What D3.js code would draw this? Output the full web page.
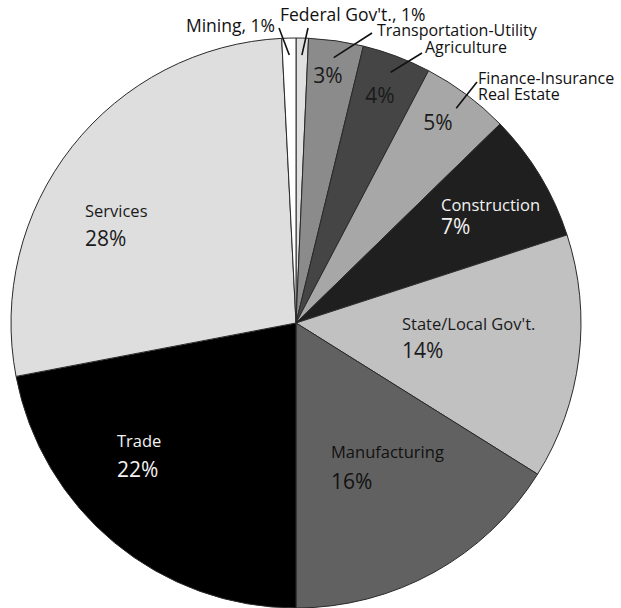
<!DOCTYPE html>
<html>
<head>
<meta charset="utf-8">
<script src="https://cdn.jsdelivr.net/npm/d3@7"></script>
<style>
  html, body { margin: 0; padding: 0; background: #fff; }
  svg { display: block; }
  text { font-family: "Open Sans", sans-serif; }
</style>
</head>
<body>
<svg width="621" height="608"></svg>
<script>
const svg = d3.select("svg");
const width = 621;
const height = 608;

// Slices clockwise from 12 o'clock
const categories = [
  "Federal Gov't.", "Transportation-Utility", "Agriculture",
  "Finance-Insurance Real Estate", "Construction", "State/Local Gov't.",
  "Manufacturing", "Trade", "Services", "Mining"
];
const shares = [0.7, 3.1, 3.9, 5.0, 7.3, 13.9, 16.1, 22.0, 27.2, 0.8];
const pctLabels = ["1%", "3%", "4%", "5%", "7%", "14%", "16%", "22%", "28%", "1%"];
const fills = ["#e0e0e0", "#8b8b8b", "#454545", "#a7a7a7", "#1f1f1f",
               "#c1c1c1", "#616161", "#000000", "#dedede", "#ffffff"];

const cx = 296, cy = 323, radius = 285;

const data = categories.map((c, i) => ({ name: c, value: shares[i], pct: pctLabels[i], fill: fills[i] }));

const pie = d3.pie().sort(null).value(d => d.value);
const arcs = pie(data);
const arc = d3.arc().innerRadius(0).outerRadius(radius);

const g = svg.append("g").attr("transform", `translate(${cx},${cy})`);

g.selectAll("path")
  .data(arcs)
  .join("path")
  .attr("d", arc)
  .attr("fill", d => d.data.fill)
  .attr("stroke", "#2a2a2a")
  .attr("stroke-width", 1);

// Labels inside the big slices: name over percent, left aligned
const inside = {
  "Construction":       { x: 145, y: -112, gap: 23, color: "#f2f2f2" },
  "State/Local Gov't.": { x: 106, y: 7,    gap: 28, color: "#1a1a1a" },
  "Manufacturing":      { x: 35,  y: 135,  gap: 31, color: "#111111" },
  "Trade":              { x: -179, y: 124, gap: 30, color: "#f2f2f2" },
  "Services":           { x: -211, y: -106, gap: 29, color: "#1a1a1a" }
};

arcs.filter(d => inside[d.data.name]).forEach(d => {
  const p = inside[d.data.name];
  g.append("text")
    .attr("x", p.x).attr("y", p.y)
    .attr("font-size", 16.5)
    .attr("fill", p.color)
    .text(d.data.name);
  g.append("text")
    .attr("x", p.x).attr("y", p.y + p.gap)
    .attr("font-size", 21)
    .attr("fill", p.color)
    .text(d.data.pct);
});

// Percent only, inside the thin slices
const pctOnly = {
  "Transportation-Utility":        { x: 32,  y: -240, color: "#1a1a1a" },
  "Agriculture":                   { x: 84,  y: -220, color: "#1a1a1a" },
  "Finance-Insurance Real Estate": { x: 142, y: -193, color: "#1a1a1a" }
};

arcs.filter(d => pctOnly[d.data.name]).forEach(d => {
  const p = pctOnly[d.data.name];
  g.append("text")
    .attr("x", p.x).attr("y", p.y)
    .attr("text-anchor", "middle")
    .attr("font-size", 21)
    .attr("fill", p.color)
    .text(d.data.pct);
});

// Callouts outside the pie with leader lines
const callouts = {
  "Mining":                        { lx: -17, ly: -295, lines: ["Mining, 1%"], tx: -21, ty: -291, anchor: "end", size: 17.5 },
  "Federal Gov't.":                { lx: 12,  ly: -295, lines: ["Federal Gov't., 1%"], tx: -16, ty: -302, anchor: "start", size: 17.5 },
  "Transportation-Utility":        { lx: 76,  ly: -290, lines: ["Transportation-Utility"], tx: 81, ty: -287, anchor: "start", size: 16 },
  "Agriculture":                   { lx: 126, ly: -270, lines: ["Agriculture"], tx: 129, ty: -270, anchor: "start", size: 16 },
  "Finance-Insurance Real Estate": { lx: 181, ly: -241, lines: ["Finance-Insurance", "Real Estate"], tx: 182, ty: -239, anchor: "start", size: 16 }
};
const leaderRadius = 268;

arcs.filter(d => callouts[d.data.name]).forEach(d => {
  const c = callouts[d.data.name];
  const a = (d.startAngle + d.endAngle) / 2;
  g.append("line")
    .attr("x1", Math.sin(a) * leaderRadius).attr("y1", -Math.cos(a) * leaderRadius)
    .attr("x2", c.lx).attr("y2", c.ly)
    .attr("stroke", "#111")
    .attr("stroke-width", 1.6);
  const t = g.append("text")
    .attr("x", c.tx).attr("y", c.ty)
    .attr("text-anchor", c.anchor)
    .attr("font-size", c.size)
    .attr("fill", "#111");
  c.lines.forEach((s, i) => {
    t.append("tspan").attr("x", c.tx).attr("dy", i ? 16 : 0).text(s);
  });
});
</script>
</body>
</html>
